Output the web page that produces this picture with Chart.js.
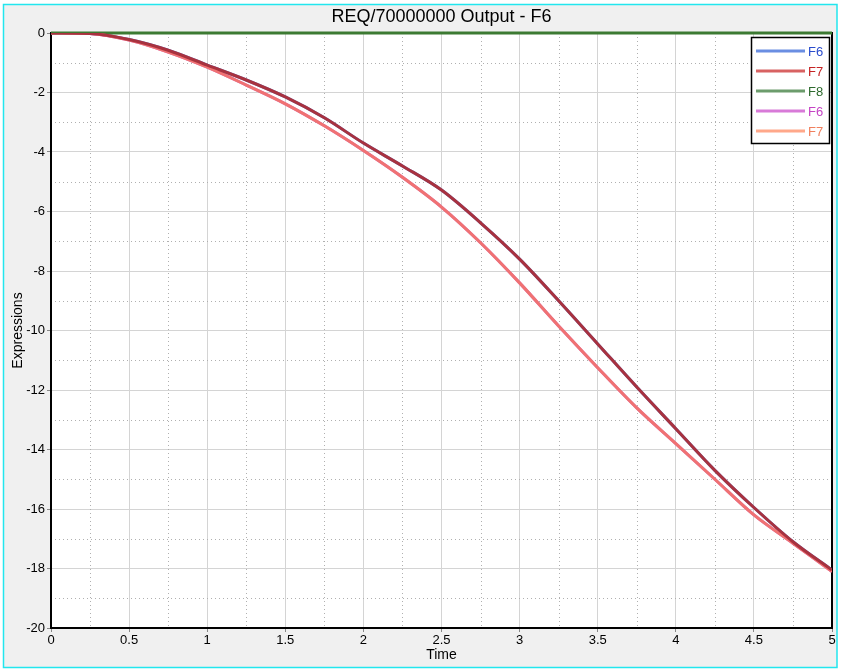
<!DOCTYPE html>
<html lang="en">
<head>
    <meta charset="UTF-8">
    <title>REQ/70000000 Output - F6</title>
    <script src="https://cdn.jsdelivr.net/npm/chart.js@4.4.0/dist/chart.umd.min.js"></script>
    <style>
        body { margin: 0; background: #fff; }
        canvas { display: block; }
    </style>
</head>
<body>
    <canvas id="chart" width="847" height="670"></canvas>
    <script>
        // values
        const time = [0, 0.25, 0.5, 0.75, 1, 1.25, 1.5, 1.75, 2, 2.25, 2.5, 2.75, 3, 3.25, 3.5, 3.75, 4, 4.25, 4.5, 4.75, 5];
        const f6First = [0, -0.02, -0.22, -0.58, -1.08, -1.58, -2.15, -2.85, -3.70, -4.47, -5.28, -6.38, -7.6, -9.0, -10.45, -11.9, -13.3, -14.7, -15.95, -17.1, -18.05];
        const f7First = [0, -0.02, -0.22, -0.58, -1.08, -1.58, -2.15, -2.85, -3.70, -4.47, -5.28, -6.38, -7.6, -9.0, -10.45, -11.9, -13.3, -14.7, -15.95, -17.1, -18.05];
        const f8Values = [0, 0, 0, 0, 0, 0, 0, 0, 0, 0, 0, 0, 0, 0, 0, 0, 0, 0, 0, 0, 0];
        const f6Second = [0, -0.02, -0.24, -0.64, -1.15, -1.75, -2.38, -3.12, -3.95, -4.85, -5.85, -7.05, -8.4, -9.85, -11.25, -12.6, -13.8, -15.0, -16.2, -17.15, -18.1];
        const f7Second = [0, -0.02, -0.24, -0.64, -1.15, -1.75, -2.38, -3.12, -3.95, -4.85, -5.85, -7.05, -8.4, -9.85, -11.25, -12.6, -13.8, -15.0, -16.2, -17.15, -18.1];

        const xTicks = [0, 0.5, 1, 1.5, 2, 2.5, 3, 3.5, 4, 4.5, 5];
        const yTicks = [0, -2, -4, -6, -8, -10, -12, -14, -16, -18, -20];
        const xMinor = [0.25, 0.75, 1.25, 1.75, 2.25, 2.75, 3.25, 3.75, 4.25, 4.75];
        const yMinor = [-1, -3, -5, -7, -9, -11, -13, -15, -17, -19];

        const legendNames = ['F6', 'F7', 'F8', 'F6', 'F7'];
        const legendLine = ['#6a8ee2', '#d86262', '#6c9c6c', '#d87ad8', '#ffa88a'];
        const legendText = ['#2a4ccc', '#c42424', '#2e6a2e', '#c444c4', '#f0805e'];

        const FONT = 'Liberation Sans, Arial, sans-serif';

        function pts(ys) {
            return time.map((t, i) => ({ x: t, y: ys[i] }));
        }

        const background = {
            id: 'background',
            beforeDraw(chart) {
                const ctx = chart.ctx;
                const a = chart.chartArea;
                ctx.save();
                ctx.fillStyle = '#ffffff';
                ctx.fillRect(0, 0, chart.width, chart.height);
                ctx.fillStyle = '#f0f0f0';
                ctx.fillRect(3, 4, 834, 664);
                ctx.fillStyle = '#ffffff';
                ctx.fillRect(a.left, a.top, a.right - a.left, a.bottom - a.top);
                ctx.restore();
            },
            afterDraw(chart) {
                const ctx = chart.ctx;
                ctx.save();
                ctx.strokeStyle = '#22e6ee';
                ctx.lineWidth = 1.5;
                ctx.strokeRect(3.5, 4.5, 833.5, 663);
                ctx.restore();
            }
        };

        // dotted minor grid + black frame round the plot
        const minorGrid = {
            id: 'minorGrid',
            beforeDatasetsDraw(chart) {
                const ctx = chart.ctx;
                const a = chart.chartArea;
                const xs = chart.scales.x, ys = chart.scales.y;
                ctx.save();
                ctx.strokeStyle = '#b0b0b0';
                ctx.lineWidth = 1;
                ctx.setLineDash([1, 3]);
                xMinor.forEach(v => {
                    const px = Math.round(xs.getPixelForValue(v)) + 0.5;
                    ctx.beginPath();
                    ctx.moveTo(px, a.top);
                    ctx.lineTo(px, a.bottom);
                    ctx.stroke();
                });
                yMinor.forEach(v => {
                    const py = Math.round(ys.getPixelForValue(v)) + 0.5;
                    ctx.beginPath();
                    ctx.moveTo(a.left, py);
                    ctx.lineTo(a.right, py);
                    ctx.stroke();
                });
                ctx.setLineDash([]);
                ctx.strokeStyle = '#000';
                ctx.lineWidth = 2;
                ctx.strokeRect(a.left, a.top, a.right - a.left, a.bottom - a.top);
                ctx.restore();
            }
        };

        const boxLegend = {
            id: 'boxLegend',
            afterDraw(chart) {
                const ctx = chart.ctx;
                const a = chart.chartArea;
                const w = 78, h = 106;
                const left = a.right - 3 - w, top = a.top + 4;
                ctx.save();
                ctx.fillStyle = '#fff';
                ctx.fillRect(left, top, w, h);
                ctx.strokeStyle = '#000';
                ctx.lineWidth = 1.5;
                ctx.strokeRect(left + 0.5, top + 0.5, w, h);
                ctx.font = '13px ' + FONT;
                ctx.textBaseline = 'middle';
                legendNames.forEach((name, i) => {
                    const y = top + 14 + i * 20;
                    ctx.strokeStyle = legendLine[i];
                    ctx.lineWidth = 3;
                    ctx.beginPath();
                    ctx.moveTo(left + 5, y);
                    ctx.lineTo(left + 54, y);
                    ctx.stroke();
                    ctx.fillStyle = legendText[i];
                    ctx.fillText(name, left + 57, y + 1);
                });
                ctx.restore();
            }
        };

        const ctx = document.getElementById('chart').getContext('2d');
        const myChart = new Chart(ctx, {
            type: 'line',
            data: {
                datasets: [
                    { label: 'F6', data: pts(f6First), borderColor: '#5a7ed8', order: 5 },
                    { label: 'F7', data: pts(f7First), borderColor: '#a8323f', order: 1 },
                    { label: 'F8', data: pts(f8Values), borderColor: '#3c7a32', order: 3, clip: 4 },
                    { label: 'F6', data: pts(f6Second), borderColor: '#d070d0', order: 4 },
                    { label: 'F7', data: pts(f7Second), borderColor: '#f07272', order: 2 }
                ]
            },
            options: {
                responsive: false,
                animation: false,
                events: [],
                elements: {
                    point: { radius: 0 },
                    line: { borderWidth: 3, cubicInterpolationMode: 'monotone', fill: false }
                },
                layout: { padding: { left: 4, right: 15, top: 5, bottom: 4 } },
                plugins: {
                    legend: { display: false },
                    tooltip: { enabled: false },
                    title: {
                        display: true,
                        fullSize: false,
                        text: 'REQ/70000000 Output - F6',
                        color: '#000',
                        font: { family: FONT, size: 18, weight: 'normal' },
                        padding: { top: 1, bottom: 5.4 }
                    }
                },
                scales: {
                    x: {
                        type: 'linear',
                        min: 0,
                        max: 5,
                        afterBuildTicks: (scale) => { scale.ticks = xTicks.map(v => ({ value: v })); },
                        afterFit: (scale) => { scale.height = 38; },
                        ticks: {
                            color: '#000',
                            font: { family: FONT, size: 13 },
                            padding: 1,
                            maxRotation: 0,
                            autoSkip: false,
                            callback: (v) => String(v)
                        },
                        grid: { color: '#d4d4d4', lineWidth: 1, tickColor: '#888', tickLength: 4 },
                        border: { display: false },
                        title: {
                            display: true,
                            text: 'Time',
                            color: '#000',
                            font: { family: FONT, size: 14 },
                            padding: { top: 0, bottom: 2 }
                        }
                    },
                    y: {
                        type: 'linear',
                        min: -20,
                        max: 0,
                        afterBuildTicks: (scale) => { scale.ticks = yTicks.map(v => ({ value: v })); },
                        afterFit: (scale) => { scale.width = 47; },
                        ticks: {
                            color: '#000',
                            font: { family: FONT, size: 13 },
                            padding: 2,
                            autoSkip: false,
                            callback: (v) => String(v)
                        },
                        grid: { color: '#d4d4d4', lineWidth: 1, tickColor: '#888', tickLength: 4 },
                        border: { display: false },
                        title: {
                            display: true,
                            text: 'Expressions',
                            color: '#000',
                            font: { family: FONT, size: 14 },
                            padding: { top: 6, bottom: 0 }
                        }
                    }
                }
            },
            plugins: [background, minorGrid, boxLegend]
        });
    </script>
</body>
</html>
